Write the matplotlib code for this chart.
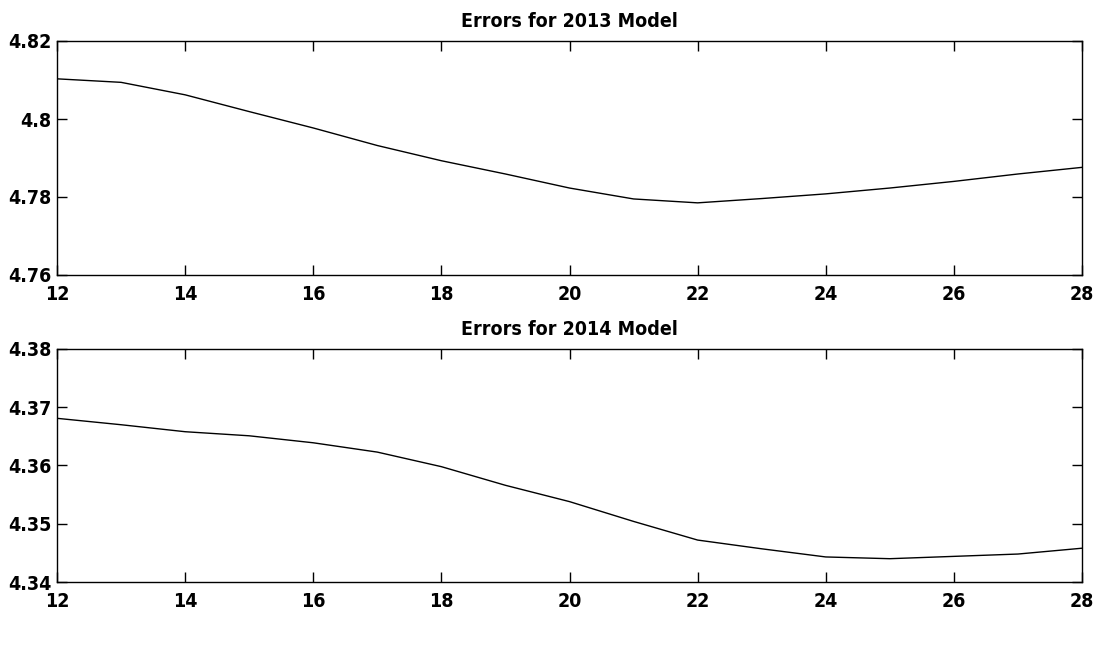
import matplotlib
matplotlib.use("Agg")
import matplotlib.pyplot as plt

plt.rcParams['font.family'] = ['DejaVu Sans']
plt.rcParams['font.stretch'] = 'condensed'

window = [12, 13, 14, 15, 16, 17, 18, 19, 20, 21, 22, 23, 24, 25, 26, 27, 28]
errors_2013 = [4.8103, 4.8094, 4.8062, 4.8019, 4.7977, 4.7932, 4.7893, 4.7859,
               4.7823, 4.7795, 4.7785, 4.7796, 4.7808, 4.7823, 4.7840, 4.7859, 4.7876]
errors_2014 = [4.3681, 4.3670, 4.3658, 4.3651, 4.3639, 4.3623, 4.3598, 4.3566,
               4.3538, 4.3504, 4.3472, 4.3457, 4.3443, 4.3440, 4.3444, 4.3448, 4.3458]

xticks = [12, 14, 16, 18, 20, 22, 24, 26, 28]
yticks_2013 = [4.76, 4.78, 4.80, 4.82]
ylabels_2013 = ['4.76', '4.78', '4.8', '4.82']
yticks_2014 = [4.34, 4.35, 4.36, 4.37, 4.38]
ylabels_2014 = ['4.34', '4.35', '4.36', '4.37', '4.38']

W, H = 1115, 646
fig = plt.figure(figsize=(W / 100, H / 100), dpi=100)

def make_axes(top, bottom):
    left, right = 57, 1082
    return fig.add_axes([left / W, 1 - bottom / H, (right - left) / W, (bottom - top) / H])

panels = [
    (make_axes(41, 275), errors_2013, yticks_2013, ylabels_2013, 'Errors for 2013 Model'),
    (make_axes(349, 582), errors_2014, yticks_2014, ylabels_2014, 'Errors for 2014 Model'),
]

for ax, errs, yt, yl, title in panels:
    ax.plot(window, errs, color='black', lw=1)
    ax.set_xlim(12, 28)
    ax.set_ylim(yt[0], yt[-1])
    ax.set_xticks(xticks)
    ax.set_yticks(yt)
    ax.set_yticklabels(yl)
    ax.tick_params(direction='in', length=7, width=1, top=True, right=True,
                   labelsize=14)
    ax.tick_params(axis='x', pad=7)
    ax.tick_params(axis='y', pad=4)
    for lab in ax.get_xticklabels() + ax.get_yticklabels():
        lab.set_fontweight('bold')
    for s in ax.spines.values():
        s.set_linewidth(1)
    ax.set_title(title, fontsize=14, fontweight='bold', pad=10)

fig.savefig('out.png', dpi=100)
